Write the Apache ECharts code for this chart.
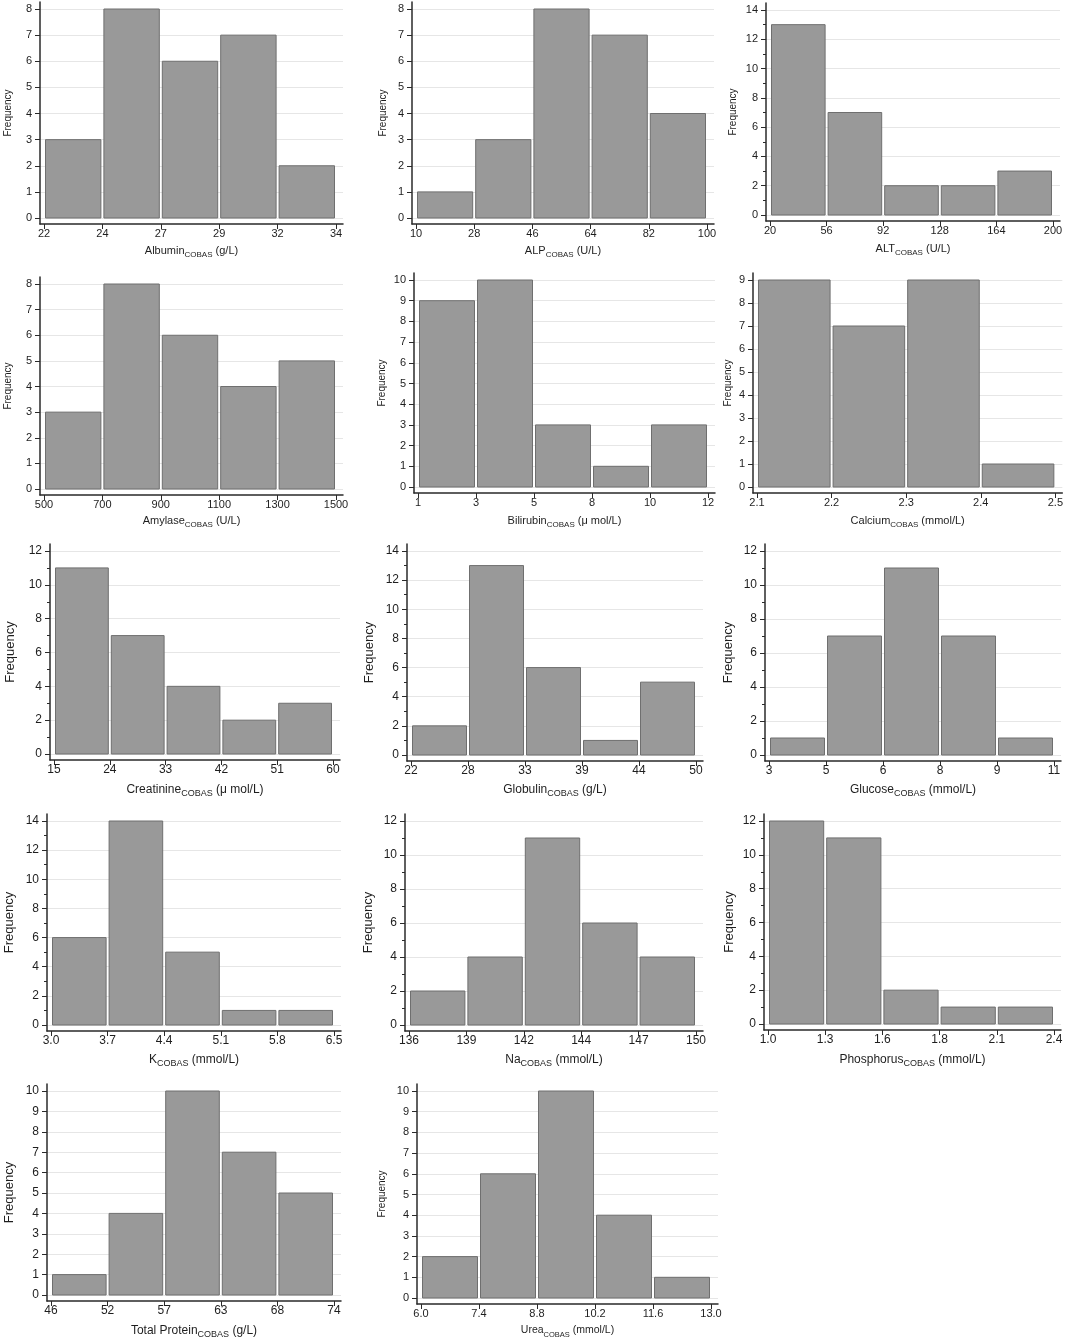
<!DOCTYPE html>
<html>
<head>
<meta charset="utf-8">
<script src="https://cdn.jsdelivr.net/npm/echarts@6/dist/echarts.min.js"></script>
<style>
  html, body { margin: 0; padding: 0; background: #fff; }
  #main { width: 1066px; height: 1340px; }
</style>
</head>
<body>
<div id="main"></div>
<script>
// bin edges (tick labels) and counts per histogram
var albuminEdges = ['22', '24', '27', '29', '32', '34'];
var albuminCounts = [3, 8, 6, 7, 2];
var alpEdges = ['10', '28', '46', '64', '82', '100'];
var alpCounts = [1, 3, 8, 7, 4];
var altEdges = ['20', '56', '92', '128', '164', '200'];
var altCounts = [13, 7, 2, 2, 3];
var amylaseEdges = ['500', '700', '900', '1100', '1300', '1500'];
var amylaseCounts = [3, 8, 6, 4, 5];
var bilirubinEdges = ['1', '3', '5', '8', '10', '12'];
var bilirubinCounts = [9, 10, 3, 1, 3];
var calciumEdges = ['2.1', '2.2', '2.3', '2.4', '2.5'];
var calciumCounts = [9, 7, 9, 1];
var creatinineEdges = ['15', '24', '33', '42', '51', '60'];
var creatinineCounts = [11, 7, 4, 2, 3];
var globulinEdges = ['22', '28', '33', '39', '44', '50'];
var globulinCounts = [2, 13, 6, 1, 5];
var glucoseEdges = ['3', '5', '6', '8', '9', '11'];
var glucoseCounts = [1, 7, 11, 7, 1];
var kEdges = ['3.0', '3.7', '4.4', '5.1', '5.8', '6.5'];
var kCounts = [6, 14, 5, 1, 1];
var naEdges = ['136', '139', '142', '144', '147', '150'];
var naCounts = [2, 4, 11, 6, 4];
var phosphorusEdges = ['1.0', '1.3', '1.6', '1.8', '2.1', '2.4'];
var phosphorusCounts = [12, 11, 2, 1, 1];
var proteinEdges = ['46', '52', '57', '63', '68', '74'];
var proteinCounts = [1, 4, 10, 7, 5];
var ureaEdges = ['6.0', '7.4', '8.8', '10.2', '11.6', '13.0'];
var ureaCounts = [2, 6, 10, 4, 1];

// name, unit, edges, counts, y-axis top tick, y-axis step
var panels = [
  ['Albumin', '(g/L)', albuminEdges, albuminCounts, 8, 1],
  ['ALP', '(U/L)', alpEdges, alpCounts, 8, 1],
  ['ALT', '(U/L)', altEdges, altCounts, 14, 2],
  ['Amylase', '(U/L)', amylaseEdges, amylaseCounts, 8, 1],
  ['Bilirubin', '(\u03bc mol/L)', bilirubinEdges, bilirubinCounts, 10, 1],
  ['Calcium', '(mmol/L)', calciumEdges, calciumCounts, 9, 1],
  ['Creatinine', '(\u03bc mol/L)', creatinineEdges, creatinineCounts, 12, 2],
  ['Globulin', '(g/L)', globulinEdges, globulinCounts, 14, 2],
  ['Glucose', '(mmol/L)', glucoseEdges, glucoseCounts, 12, 2],
  ['K', '(mmol/L)', kEdges, kCounts, 14, 2],
  ['Na', '(mmol/L)', naEdges, naCounts, 12, 2],
  ['Phosphorus', '(mmol/L)', phosphorusEdges, phosphorusCounts, 12, 2],
  ['Total Protein', '(g/L)', proteinEdges, proteinCounts, 10, 1],
  ['Urea', '(mmol/L)', ureaEdges, ureaCounts, 10, 1]
];

// layout: left, top, right, bottom (axis box), tick font, y-name font, title font,
// y-name centre dist, x-name centre dist
var layouts = [
  [40, 2, 343, 224, 11, 10, 11, 32, 28],
  [412, 2, 714, 224, 11, 10, 11, 29, 28],
  [766, 3, 1060, 221, 11, 10, 11, 33, 29],
  [40, 277, 343, 495, 11, 10, 11, 32, 27],
  [414, 273, 715, 493, 11, 10, 11, 32, 29],
  [753, 273, 1063, 493, 11, 10, 11, 25, 29],
  [50, 544, 340, 760, 12, 13, 12, 40, 31],
  [407, 544, 703, 761, 12, 13, 12, 38, 30],
  [765, 544, 1061, 761, 12, 13, 12, 37, 30],
  [47, 814, 341, 1031, 12, 13, 12, 38, 30],
  [405, 814, 703, 1031, 12, 13, 12, 37, 30],
  [764, 814, 1061, 1030, 12, 13, 12, 35, 31],
  [47, 1084, 341, 1301, 12, 13, 12, 38, 31],
  [417, 1084, 718, 1304, 11, 10, 10.5, 35, 28]
];

var PAD_L = 4, PAD_R = 7, PAD_B = 6, PAD_T = 7;
var FONT = "'Liberation Sans', Arial, sans-serif";
var AXIS = '#2a2a2a';
var TEXT = '#1e1e1e';

var grids = [], xAxes = [], yAxes = [], series = [];

panels.forEach(function (p, i) {
  var L = layouts[i];
  var name = p[0], unit = p[1], edges = p[2], counts = p[3], top = p[4], step = p[5];
  var w = L[2] - L[0], h = L[3] - L[1];
  var nb = counts.length;
  var pxX = (w - PAD_L - PAD_R) / nb;
  var pxY = (h - PAD_B - PAD_T) / top;
  var tickFs = L[4], freqFs = L[5], titleFs = L[6];

  grids.push({left: L[0], top: L[1], width: w, height: h});

  var edgeIdx = edges.map(function (e, k) { return k; });
  var major = [], minor = [];
  for (var v = 0; v <= top; v += step) major.push(v);
  if (step === 2) for (v = 1; v < top; v += 2) minor.push(v);

  xAxes.push({
    type: 'value', gridIndex: i,
    min: -PAD_L / pxX, max: nb + PAD_R / pxX,
    axisLine: {show: true, onZero: false, lineStyle: {color: AXIS, width: 1.5}},
    axisTick: {show: true, customValues: edgeIdx, length: 5, lineStyle: {color: AXIS, width: 1}},
    axisLabel: {
      customValues: edgeIdx, margin: 4, fontSize: tickFs, color: TEXT, fontFamily: FONT,
      formatter: function (val) { return edges[Math.round(val)]; }
    },
    splitLine: {show: false},
    name: '{a|' + name + '}{s|COBAS}{a| ' + unit + '}',
    nameLocation: 'middle',
    nameGap: L[8] - 7,
    nameTextStyle: {
      fontFamily: FONT, color: TEXT,
      rich: {
        a: {fontSize: titleFs, lineHeight: 14, verticalAlign: 'top', fontFamily: FONT, color: TEXT},
        s: {fontSize: titleFs - 3, lineHeight: 6, verticalAlign: 'bottom', fontFamily: FONT, color: TEXT}
      }
    }
  });

  yAxes.push({
    type: 'value', gridIndex: i, position: 'left',
    min: -PAD_B / pxY, max: top + PAD_T / pxY,
    axisLine: {show: true, onZero: false, lineStyle: {color: AXIS, width: 1.5}},
    axisTick: {show: true, customValues: major, length: 5, lineStyle: {color: AXIS, width: 1}},
    axisLabel: {customValues: major, margin: 8, fontSize: tickFs, color: TEXT, fontFamily: FONT},
    splitLine: {show: true, lineStyle: {color: '#e6e6e6', width: 1}},
    name: 'Frequency',
    nameLocation: 'middle',
    nameRotate: 90,
    nameGap: L[7] - freqFs / 2,
    nameTextStyle: {fontSize: freqFs, color: TEXT, fontFamily: FONT}
  });
  // minor ticks only
  yAxes.push({
    type: 'value', gridIndex: i, position: 'left',
    min: -PAD_B / pxY, max: top + PAD_T / pxY,
    axisLine: {show: false, onZero: false},
    axisTick: {show: minor.length > 0, customValues: minor.length ? minor : [0], length: 3, lineStyle: {color: AXIS, width: 1}},
    axisLabel: {show: false},
    splitLine: {show: false}
  });

  series.push({
    type: 'custom',
    xAxisIndex: i,
    yAxisIndex: 2 * i,
    clip: false,
    data: counts.map(function (c, k) { return [k, c]; }),
    renderItem: function (params, api) {
      var k = api.value(0), c = api.value(1);
      var p0 = api.coord([k, c]);
      var p1 = api.coord([k + 1, 0]);
      return {
        type: 'rect',
        shape: {x: p0[0] + 1.5, y: p0[1], width: p1[0] - p0[0] - 3, height: p1[1] - p0[1]},
        style: {fill: '#999999', stroke: '#6f6f6f', lineWidth: 1}
      };
    }
  });
});

var chart = echarts.init(document.getElementById('main'), null, {renderer: 'canvas'});
chart.setOption({
  animation: false,
  backgroundColor: '#ffffff',
  grid: grids,
  xAxis: xAxes,
  yAxis: yAxes,
  series: series
});
</script>
</body>
</html>
